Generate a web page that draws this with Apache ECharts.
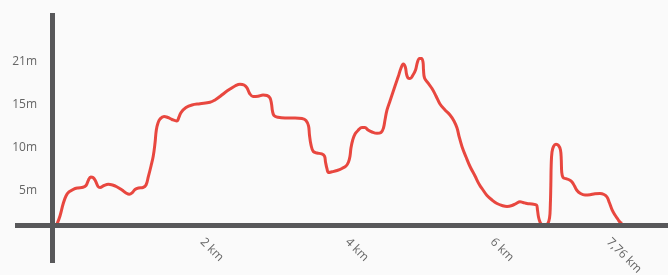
<!DOCTYPE html>
<html>
<head>
<meta charset="utf-8">
<script src="https://cdn.jsdelivr.net/npm/echarts@6/dist/echarts.min.js"></script>
<style>
html,body{margin:0;padding:0;background:#fafafa;}
#chart{width:668px;height:275px;}
</style>
</head>
<body>
<div id="chart"></div>
<script>
// distance along the route (km)
const distanceKm = [
  0, 0.041, 0.087, 0.124, 0.165, 0.225, 0.289, 0.358, 0.400, 0.434,
  0.465, 0.496, 0.531, 0.565, 0.593, 0.648, 0.707, 0.765, 0.823, 0.896,
  0.951, 0.997, 1.034, 1.075, 1.123, 1.185, 1.227, 1.258, 1.296, 1.327,
  1.351, 1.369, 1.392, 1.420, 1.475, 1.530, 1.585, 1.650, 1.682, 1.709,
  1.778, 1.861, 1.971, 2.109, 2.178, 2.247, 2.316, 2.385, 2.454, 2.522,
  2.578, 2.619, 2.660, 2.702, 2.771, 2.840, 2.895, 2.936, 2.957, 2.970,
  2.991, 3.046, 3.143, 3.281, 3.377, 3.432, 3.467, 3.480, 3.501, 3.533,
  3.584, 3.649, 3.687, 3.701, 3.722, 3.742, 3.791, 3.860, 3.928, 3.984,
  4.018, 4.039, 4.052, 4.076, 4.108, 4.149, 4.204, 4.245, 4.287, 4.342,
  4.411, 4.466, 4.500, 4.521, 4.549, 4.590, 4.636, 4.673, 4.704, 4.742,
  4.773, 4.801, 4.818, 4.838, 4.866, 4.907, 4.942, 4.969, 4.997, 5.024,
  5.045, 5.052, 5.066, 5.114, 5.169, 5.224, 5.279, 5.348, 5.417, 5.472,
  5.514, 5.541, 5.583, 5.638, 5.693, 5.762, 5.821, 5.872, 5.927, 5.996,
  6.065, 6.134, 6.203, 6.272, 6.327, 6.382, 6.423, 6.478, 6.547, 6.609,
  6.623, 6.637, 6.658, 6.678, 6.720, 6.761, 6.789, 6.800, 6.807, 6.812,
  6.823, 6.844, 6.878, 6.913, 6.940, 6.951, 6.957, 6.975, 7.016, 7.064,
  7.099, 7.133, 7.168, 7.216, 7.278, 7.347, 7.416, 7.485, 7.540, 7.581,
  7.616, 7.650, 7.691, 7.733, 7.760, 7.790
];
// elevation (m)
const elevationM = [
  1.20, 2.20, 3.75, 4.64, 5.13, 5.46, 5.62, 5.70, 5.92, 6.59,
  6.96, 6.90, 6.47, 5.80, 5.68, 5.92, 6.07, 5.98, 5.77, 5.37,
  5.01, 4.85, 5.01, 5.43, 5.62, 5.68, 5.98, 6.96, 8.30, 9.52,
  11.11, 12.70, 13.55, 14.04, 14.35, 14.22, 13.98, 13.80, 14.28, 14.83,
  15.44, 15.75, 15.90, 16.08, 16.36, 16.79, 17.28, 17.70, 18.07, 18.28,
  18.19, 17.83, 17.09, 16.79, 16.82, 16.97, 16.91, 16.60, 15.87, 15.02,
  14.47, 14.25, 14.16, 14.16, 14.10, 13.86, 13.19, 12.09, 10.87, 10.07,
  9.89, 9.77, 9.52, 8.79, 7.94, 7.51, 7.59, 7.75, 8.00, 8.30,
  8.79, 9.52, 10.50, 11.48, 12.21, 12.64, 13.00, 13.00, 12.70, 12.45,
  12.29, 12.39, 12.94, 13.92, 15.14, 16.24, 17.46, 18.44, 19.23, 20.27,
  20.76, 20.39, 19.53, 19.05, 18.98, 19.41, 20.02, 21.00, 21.43, 21.43,
  21.00, 20.02, 19.05, 18.44, 17.76, 16.85, 15.87, 15.14, 14.53, 13.80,
  12.94, 11.96, 10.66, 9.40, 8.24, 7.08, 6.04, 5.37, 4.70, 4.15,
  3.72, 3.48, 3.36, 3.48, 3.72, 3.94, 3.85, 3.72, 3.66, 3.54,
  2.93, 2.08, 1.45, 1.18, 1.05, 1.20, 1.95, 3.54, 5.98, 8.42,
  10.01, 10.68, 10.95, 10.80, 10.26, 9.03, 7.57, 6.90, 6.75, 6.59,
  6.35, 5.86, 5.31, 4.94, 4.76, 4.80, 4.92, 4.94, 4.82, 4.52,
  3.78, 2.99, 2.32, 1.77, 1.45, 1.30
];
// axis ticks
const yTickValues = [5.25, 10.5, 15.75, 21];
const yTickLabels = ['5m', '10m', '15m', '21m'];
const xTickValues = [2, 4, 6, 7.6];
const xTickLabels = ['2 km', '4 km', '6 km', '7,76 km'];
const baselineM = 1.1;     // lowest elevation, where the distance axis is drawn
const yAxisAtKm = -0.059;  // elevation axis position

function nearestLabel(values, labels, v) {
  let best = -1, bd = Infinity;
  for (let i = 0; i < values.length; i++) {
    const d = Math.abs(values[i] - v);
    if (d < bd) { bd = d; best = i; }
  }
  return bd < 1e-6 ? labels[best] : '';
}

const chart = echarts.init(document.getElementById('chart'), null, {renderer: 'canvas'});
const axisColor = '#58585a';
chart.setOption({
  backgroundColor: '#fafafa',
  animation: false,
  grid: {left: 15, right: 0, top: 13, bottom: 12, containLabel: false, outerBoundsMode: 'none'},
  xAxis: {
    type: 'value',
    position: 'bottom',
    offset: -29,
    min: -0.579, max: 8.422,
    axisLine: {show: false, onZero: false},
    axisTick: {show: false},
    splitLine: {show: false},
    axisLabel: {
      customValues: xTickValues,
      rotate: -45,
      margin: 6,
      color: '#666',
      fontFamily: 'Open Sans',
      fontSize: 12,
      formatter: v => nearestLabel(xTickValues, xTickLabels, v)
    }
  },
  yAxis: {
    type: 'value',
    position: 'left',
    offset: -42,
    min: -3.541, max: 26.98,
    axisLine: {show: false, onZero: false},
    axisTick: {show: false},
    splitLine: {show: false},
    axisLabel: {
      customValues: yTickValues,
      margin: 20,
      padding: [4, 0, 0, 0],
      color: '#666',
      fontFamily: 'Open Sans',
      fontSize: 12,
      formatter: v => nearestLabel(yTickValues, yTickLabels, v)
    }
  },
  series: [{
    type: 'line',
    data: distanceKm.map((d, i) => [d, elevationM[i]]),
    smooth: 0.4,
    showSymbol: false,
    symbol: 'none',
    lineStyle: {color: '#e8473f', width: 3},
    silent: true,
    markLine: {
      silent: true,
      symbol: 'none',
      label: {show: false},
      lineStyle: {color: axisColor, width: 5, type: 'solid'},
      emphasis: {disabled: true},
      data: [{xAxis: yAxisAtKm}, {yAxis: baselineM}]
    }
  }]
});
</script>
</body>
</html>
